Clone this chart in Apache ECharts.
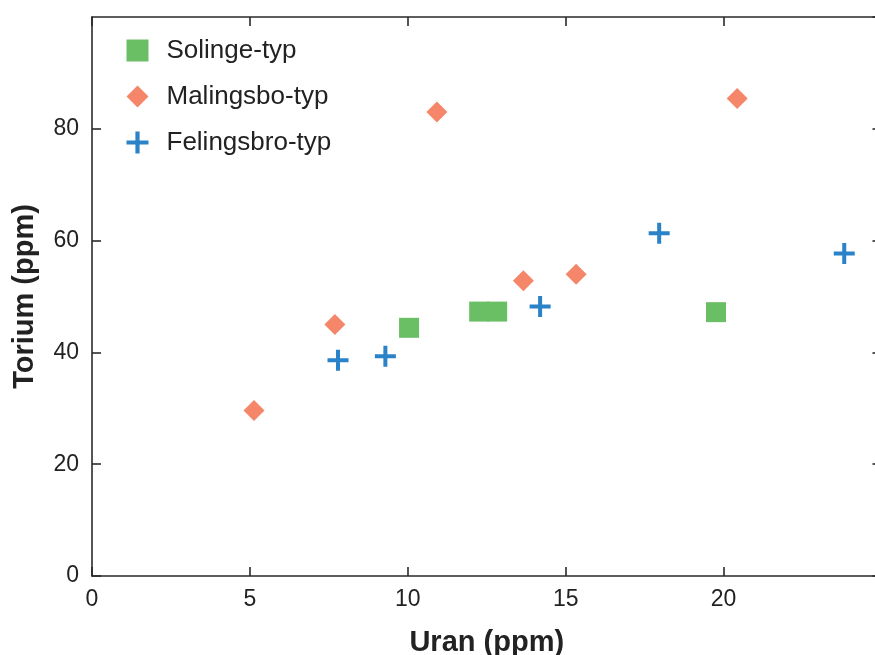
<!DOCTYPE html>
<html><head><meta charset="utf-8">
<script src="https://cdn.jsdelivr.net/npm/echarts@6/dist/echarts.min.js"></script>
<style>html,body{margin:0;padding:0;overflow:hidden;background:#fff;width:875px;height:655px}#c{width:890px;height:655px}</style>
</head><body><div id="c"></div>
<script>
const seriesNames = ['Solinge-typ', 'Malingsbo-typ', 'Felingsbro-typ'];
const solinge = [[10.04, 44.4], [12.26, 47.3], [12.83, 47.3], [19.76, 47.2]];
const malingsbo = [[5.13, 29.6], [7.69, 45.0], [10.92, 83.0], [13.66, 52.8], [15.33, 54.0], [20.43, 85.4]];
const felingsbro = [[7.79, 38.6], [9.29, 39.3], [14.19, 48.2], [17.96, 61.3], [23.82, 57.7]];
const xTicks = [0, 5, 10, 15, 20, 25];
const yTicks = [0, 20, 40, 60, 80, 100];

const FONT = '"Liberation Sans", Arial, sans-serif';
const plusPath = 'path://M8.5,0H12.5V8.5H21V12.5H12.5V21H8.5V12.5H0V8.5H8.5Z';
const lineStyle = {color: '#2a2a2a', width: 1.6};
const chart = echarts.init(document.getElementById('c'), null, {renderer: 'canvas'});
const baseX = {type: 'value', min: xTicks[0], max: xTicks[xTicks.length-1], interval: 5, splitLine: {show: false},
  axisLine: {onZero: false, lineStyle: lineStyle}, axisTick: {inside: true, length: 9, lineStyle: lineStyle}};
const baseY = {type: 'value', min: yTicks[0], max: yTicks[yTicks.length-1], interval: 20, splitLine: {show: false},
  axisLine: {onZero: false, lineStyle: lineStyle}, axisTick: {inside: true, length: 9, lineStyle: lineStyle}};
chart.setOption({
  animation: false,
  textStyle: {fontFamily: FONT},
  grid: {left: 92, top: 17, bottom: 79, right: 8.5, containLabel: false, outerBoundsMode: 'none'},
  legend: {
    orient: 'vertical', left: 121.5, top: 32.5, itemWidth: 22, itemHeight: 22, itemGap: 20,
    textStyle: {fontSize: 26, color: '#222', fontFamily: FONT, padding: [0, 0, 0, 13]},
    data: seriesNames
  },
  xAxis: [
    Object.assign({}, baseX, {position: 'bottom', name: 'Uran (ppm)', nameLocation: 'middle', nameGap: 52,
      nameTextStyle: {fontSize: 29, fontWeight: 'bold', color: '#222', fontFamily: FONT},
      axisLabel: {fontSize: 23, color: '#222', margin: 12, fontFamily: FONT, showMaxLabel: false}}),
    Object.assign({}, baseX, {position: 'top', axisLabel: {show: false}})
  ],
  yAxis: [
    Object.assign({}, baseY, {position: 'left', name: 'Torium (ppm)', nameLocation: 'middle', nameGap: 53,
      nameTextStyle: {fontSize: 29, fontWeight: 'bold', color: '#222', fontFamily: FONT},
      axisLabel: {fontSize: 23, color: '#222', margin: 13, fontFamily: FONT, showMaxLabel: false}}),
    Object.assign({}, baseY, {position: 'right', axisLabel: {show: false}})
  ],
  series: [
    {name: seriesNames[0], type: 'scatter', data: solinge, symbol: 'rect', symbolSize: 20,
      itemStyle: {color: '#6abf64', opacity: 1}},
    {name: seriesNames[1], type: 'scatter', data: malingsbo, symbol: 'diamond', symbolSize: [21, 21],
      itemStyle: {color: '#f5866a', opacity: 1}},
    {name: seriesNames[2], type: 'scatter', data: felingsbro, symbol: plusPath, symbolSize: 21,
      itemStyle: {color: '#2a82c8', opacity: 1}}
  ]
});
</script></body></html>
